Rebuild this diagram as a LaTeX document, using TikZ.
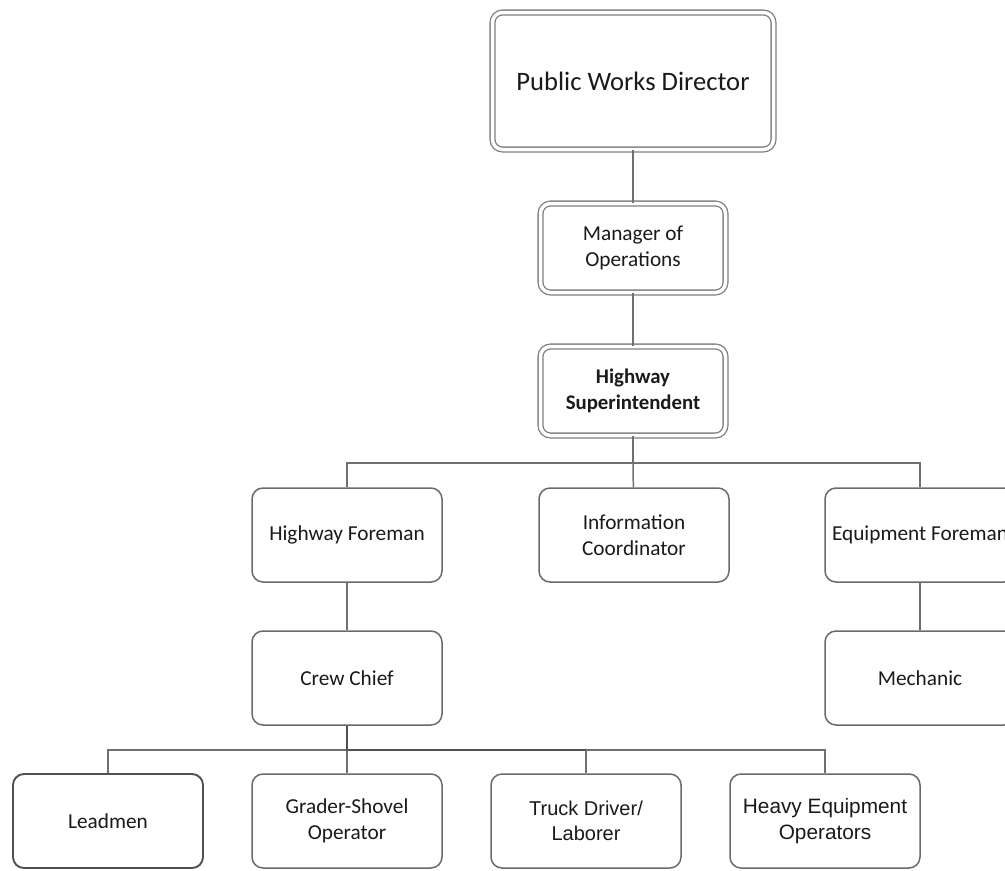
\documentclass[tikz,border=0pt]{standalone}
\usepackage{fontspec}
\setmainfont{Carlito}
\newfontfamily\arialish{Liberation Sans}
\definecolor{boxgray}{HTML}{6A6A6A}
\definecolor{dblgray}{HTML}{808080}
\definecolor{linkgray}{HTML}{707070}
\definecolor{darklink}{HTML}{505050}
\definecolor{ink}{HTML}{1A1A1A}
\begin{document}
\begin{tikzpicture}[x=1pt,y=-1pt,
  unit/.style={draw=boxgray, line width=1.5pt, rounded corners=11pt, fill=white,
    minimum width=190pt, minimum height=94pt, align=center, inner sep=0pt,
    text=ink, font=\fontsize{21.3}{25.5}\selectfont},
  headunit/.style={draw=dblgray, double=white, double distance=3.5pt, line width=1.3pt,
    rounded corners=10pt, fill=white, align=center, inner sep=0pt, text=ink,
    font=\fontsize{21.3}{25.5}\selectfont},
  link/.style={draw=linkgray, line width=1.5pt},
  heavylink/.style={draw=darklink, line width=2pt}]
\useasboundingbox (0,0) rectangle (1005,871);
\clip (0,0) rectangle (1005,871);

% top of the chain
\node[headunit, minimum width=281pt, minimum height=137pt,
      font=\fontsize{26.6}{30}\selectfont] (pwd) at (633,81) {Public Works Director};
\node[headunit, minimum width=185pt, minimum height=89pt] (mgr) at (633,248) {Manager of\\Operations};
\node[headunit, minimum width=185pt, minimum height=89pt,
      font=\fontsize{20.8}{25.5}\selectfont\bfseries] (hs) at (633,391) {Highway\\Superintendent};

% second level
\node[unit] (hf) at (347,535) {Highway Foreman};
\node[unit] (ic) at (634,535) {Information\\Coordinator};
\node[unit] (ef) at (920,535) {Equipment Foreman};

% third level
\node[unit] (cc) at (347,678) {Crew Chief};
\node[unit] (mech) at (920,678) {Mechanic};

% crews
\node[unit, draw=darklink, line width=1.9pt] (lead) at (108,821) {Leadmen};
\node[unit] (grader) at (347,821) {Grader-Shovel\\Operator};
\node[unit, font=\arialish\fontsize{20}{25.5}\selectfont] (truck) at (586,821) {Truck Driver/\\Laborer};
\node[unit, font=\arialish\fontsize{20.8}{25.5}\selectfont] (heavy) at (825,821) {Heavy Equipment\\Operators};

% connectors
\coordinate (bus1) at (633,463);
\coordinate (bus2) at (347,750);
\coordinate (bus2r) at (586,750);

\draw[link] (pwd) -- (mgr);
\draw[link] (mgr) -- (hs);
\draw[link] (hs) -- (bus1);
\draw[link] (bus1) -| (hf);
\draw[link] (bus1) -- (ic);
\draw[link] (bus1) -| (ef);
\draw[link] (hf) -- (cc);
\draw[link] (ef) -- (mech);

\draw[link] (bus2) -| (lead);
\draw[link] (bus2) -- (grader);
\draw[link] (bus2r) -| (heavy);
\draw[heavylink] (cc) -- (bus2) -- (bus2r);
\draw[link] (bus2r) -- (truck);
\end{tikzpicture}
\end{document}
